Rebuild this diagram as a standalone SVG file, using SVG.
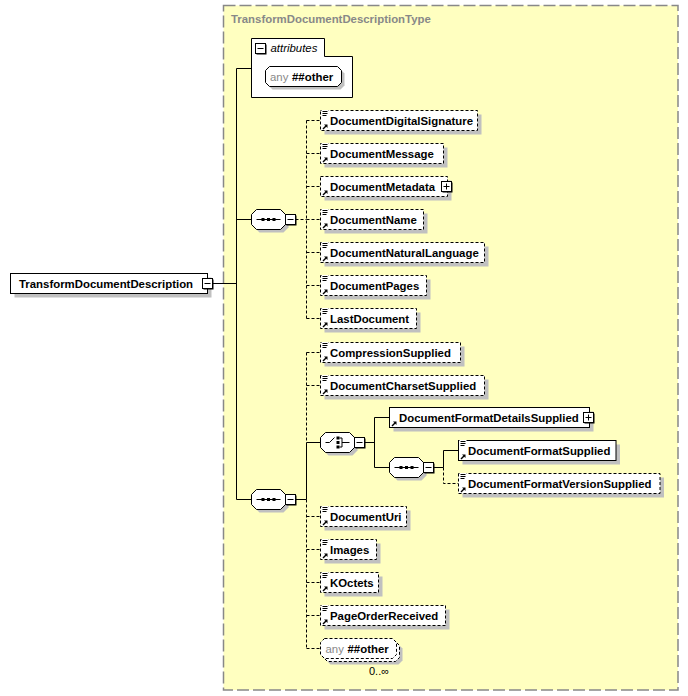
<svg xmlns="http://www.w3.org/2000/svg" xmlns:xlink="http://www.w3.org/1999/xlink" width="688" height="696" viewBox="0 0 688 696">
<style>
.el{font-family:"Liberation Sans",Arial,sans-serif;font-weight:bold;font-size:11.4px;fill:#000}
.gr{font-family:"Liberation Sans",Arial,sans-serif;font-size:11.4px;fill:#888}
.it{font-family:"Liberation Sans",Arial,sans-serif;font-style:italic;font-size:11.4px;fill:#000}
.oc{font-family:"Liberation Sans",Arial,sans-serif;font-size:11px;fill:#000}
.sh{fill:#c0c0c0;stroke:none}
.box{fill:#fff;stroke:#000;stroke-width:1}
.opt{fill:#fff;stroke:#000;stroke-width:1;stroke-dasharray:3,2}
.ln{fill:none;stroke:#000;stroke-width:1}
.dl{fill:none;stroke:#000;stroke-width:1;stroke-dasharray:3,2}
</style>
<defs>
<g id="ico-list">
<rect x="1" y="-0.5" width="7" height="7" fill="#fff"/>
<rect x="2" y="0.5" width="5" height="1" fill="#000"/>
<rect x="2" y="2.5" width="5" height="1" fill="#000"/>
<rect x="2" y="4.5" width="4" height="1" fill="#000"/>
</g>
<g id="ico-ref">
<path d="M2.5,18.5 L5.5,15.5" stroke="#000" stroke-width="1.5" fill="none"/>
<polygon points="3.5,14 7,14 7,17.5" fill="#000"/>
</g>
<g id="minus">
<rect x="1" y="1" width="10" height="10" fill="#000"/>
<rect x="0" y="0" width="10" height="10" fill="#fff" stroke="#000"/>
<path d="M2,5 H8" stroke="#000"/>
</g>
<g id="plus">
<rect x="1" y="1" width="10" height="10" fill="#000"/>
<rect x="0" y="0" width="10" height="10" fill="#fff" stroke="#000"/>
<path d="M2,5 H8 M5,2 V8" stroke="#000"/>
</g>
<path id="oct" d="M5,0 H29 L34,5 V15 L29,20 H5 L0,15 V5 Z"/>
<g id="seq">
<use href="#oct" x="3" y="3" class="sh"/>
<use href="#oct" class="box"/>
<path d="M5,10 H29" stroke="#000"/>
<rect x="10" y="8.5" width="3" height="3" fill="#000"/>
<rect x="15.5" y="8.5" width="3" height="3" fill="#000"/>
<rect x="21" y="8.5" width="3" height="3" fill="#000"/>
</g>
<g id="choice">
<use href="#oct" x="3" y="3" class="sh"/>
<use href="#oct" class="box"/>
<path d="M5,10 H9 L14,5" stroke="#000" fill="none"/>
<rect x="16" y="4" width="3" height="3" fill="#000"/>
<rect x="16" y="8.5" width="3" height="3" fill="#000"/>
<rect x="16" y="13" width="3" height="3" fill="#000"/>
<path d="M19,5.5 H21.5 V14.5 H19 M21.5,10 H29" stroke="#000" fill="none"/>
</g>
</defs>

<rect x="223.5" y="5.5" width="454.5" height="684.5" fill="#ffffc0" stroke="#888" stroke-width="1.5" stroke-dasharray="12,4"/>
<text x="231" y="23" class="el" style="fill:#888">TransformDocumentDescriptionType</text>

<g id="connectors">
<path class="ln" d="M212.5,283.5 H236.5 M236.5,68.5 V499.5 M236.5,68.5 H251.5 M236.5,219.5 H251.5 M236.5,499.5 H251.5"/>
<path class="dl" d="M295.5,219.5 H306.5 M306.5,120.5 V318.5 M306.5,120.5 H320.5 M306.5,153.5 H320.5 M306.5,186.5 H320.5 M306.5,219.5 H320.5 M306.5,252.5 H320.5 M306.5,285.5 H320.5 M306.5,318.5 H320.5"/>
<path class="ln" d="M295.5,499.5 H306.5 V442.5 H320.5"/>
<path class="dl" d="M306.5,352.5 V442.5 M306.5,499.5 V648.5 M306.5,352.5 H320.5 M306.5,385.5 H320.5 M306.5,516.5 H320.5 M306.5,549.5 H320.5 M306.5,582.5 H320.5 M306.5,615.5 H320.5 M306.5,648.5 H320.5"/>
<path class="ln" d="M364.5,442.5 H374.5 M374.5,417.5 V467.5 M374.5,417.5 H389.5 M374.5,467.5 H389.5 M433.5,467.5 H443.5 V450.5 H458.5"/>
<path class="dl" d="M443.5,467.5 V483.5 H458.5"/>
</g>

<g id="n-main">
<rect class="sh" x="14.5" y="277.5" width="197" height="20"/>
<rect class="box" x="10.5" y="273.5" width="197" height="20"/>
<text class="el" x="19" y="287.5">TransformDocumentDescription</text>
<use href="#minus" x="202.5" y="278.5"/>
</g>

<g id="n-attributes">
<path class="box" d="M251.5,38.5 H324.5 V56.5 H352.5 V97.5 H251.5 Z"/>
<use href="#minus" x="255.5" y="43.5"/>
<text class="it" x="270.5" y="52">attributes</text>
<path class="sh" d="M272.5,69.5 H340.5 L344.5,73.5 V85.5 L340.5,89.5 H272.5 L268.5,85.5 V73.5 Z"/>
<path class="box" d="M269.5,66.5 H337.5 L341.5,70.5 V82.5 L337.5,86.5 H269.5 L265.5,82.5 V70.5 Z"/>
<text class="gr" x="270" y="80.5">any</text>
<text class="el" x="292" y="80.5">##other</text>
</g>

<g id="n-seq1"><use href="#seq" x="251.5" y="209.5"/><use href="#minus" x="285.5" y="214.5"/></g>
<g id="n-seq2"><use href="#seq" x="251.5" y="489.5"/><use href="#minus" x="285.5" y="494.5"/></g>
<g id="n-choice"><use href="#choice" x="320.5" y="432.5"/><use href="#minus" x="354.5" y="437.5"/></g>
<g id="n-seq3"><use href="#seq" x="389.5" y="457.5"/><use href="#minus" x="423.5" y="462.5"/></g>

<g id="n-DocumentDigitalSignature">
<rect class="sh" x="324.5" y="114.5" width="157" height="20"/>
<rect class="opt" x="320.5" y="110.5" width="157" height="20"/>
<use href="#ico-list" x="320.5" y="110.5"/><use href="#ico-ref" x="320.5" y="110.5"/>
<text class="el" x="330" y="124.5">DocumentDigitalSignature</text>
</g>
<g id="n-DocumentMessage">
<rect class="sh" x="324.5" y="147.5" width="123" height="20"/>
<rect class="opt" x="320.5" y="143.5" width="123" height="20"/>
<use href="#ico-list" x="320.5" y="143.5"/><use href="#ico-ref" x="320.5" y="143.5"/>
<text class="el" x="330" y="157.5">DocumentMessage</text>
</g>
<g id="n-DocumentMetadata">
<rect class="sh" x="324.5" y="180.5" width="127" height="20"/>
<rect class="opt" x="320.5" y="176.5" width="127" height="20"/>
<use href="#ico-ref" x="320.5" y="176.5"/>
<text class="el" x="330" y="190.5">DocumentMetadata</text>
<use href="#plus" x="441.5" y="181.5"/>
</g>
<g id="n-DocumentName">
<rect class="sh" x="324.5" y="213.5" width="103" height="20"/>
<rect class="opt" x="320.5" y="209.5" width="103" height="20"/>
<use href="#ico-list" x="320.5" y="209.5"/><use href="#ico-ref" x="320.5" y="209.5"/>
<text class="el" x="330" y="223.5">DocumentName</text>
</g>
<g id="n-DocumentNaturalLanguage">
<rect class="sh" x="324.5" y="246.5" width="164" height="20"/>
<rect class="opt" x="320.5" y="242.5" width="164" height="20"/>
<use href="#ico-list" x="320.5" y="242.5"/><use href="#ico-ref" x="320.5" y="242.5"/>
<text class="el" x="330" y="256.5">DocumentNaturalLanguage</text>
</g>
<g id="n-DocumentPages">
<rect class="sh" x="324.5" y="279.5" width="106" height="20"/>
<rect class="opt" x="320.5" y="275.5" width="106" height="20"/>
<use href="#ico-list" x="320.5" y="275.5"/><use href="#ico-ref" x="320.5" y="275.5"/>
<text class="el" x="330" y="289.5">DocumentPages</text>
</g>
<g id="n-LastDocument">
<rect class="sh" x="324.5" y="312.5" width="96" height="20"/>
<rect class="opt" x="320.5" y="308.5" width="96" height="20"/>
<use href="#ico-list" x="320.5" y="308.5"/><use href="#ico-ref" x="320.5" y="308.5"/>
<text class="el" x="330" y="322.5">LastDocument</text>
</g>

<g id="n-CompressionSupplied">
<rect class="sh" x="324.5" y="346.5" width="140" height="20"/>
<rect class="opt" x="320.5" y="342.5" width="140" height="20"/>
<use href="#ico-list" x="320.5" y="342.5"/><use href="#ico-ref" x="320.5" y="342.5"/>
<text class="el" x="330" y="356.5">CompressionSupplied</text>
</g>
<g id="n-DocumentCharsetSupplied">
<rect class="sh" x="324.5" y="379.5" width="164" height="20"/>
<rect class="opt" x="320.5" y="375.5" width="164" height="20"/>
<use href="#ico-list" x="320.5" y="375.5"/><use href="#ico-ref" x="320.5" y="375.5"/>
<text class="el" x="330" y="389.5">DocumentCharsetSupplied</text>
</g>
<g id="n-DocumentFormatDetailsSupplied">
<rect class="sh" x="393.5" y="411.5" width="200" height="20"/>
<rect class="box" x="389.5" y="407.5" width="200" height="20"/>
<use href="#ico-ref" x="389.5" y="407.5"/>
<text class="el" x="399" y="421.5">DocumentFormatDetailsSupplied</text>
<use href="#plus" x="583.5" y="412.5"/>
</g>
<g id="n-DocumentFormatSupplied">
<rect class="sh" x="462.5" y="444.5" width="157.5" height="20"/>
<rect class="box" x="458.5" y="440.5" width="157.5" height="20"/>
<use href="#ico-list" x="458.5" y="440.5"/><use href="#ico-ref" x="458.5" y="440.5"/>
<text class="el" x="468" y="454.5">DocumentFormatSupplied</text>
</g>
<g id="n-DocumentFormatVersionSupplied">
<rect class="sh" x="462.5" y="477.5" width="201.5" height="20"/>
<rect class="opt" x="458.5" y="473.5" width="201.5" height="20"/>
<use href="#ico-list" x="458.5" y="473.5"/><use href="#ico-ref" x="458.5" y="473.5"/>
<text class="el" x="468" y="487.5">DocumentFormatVersionSupplied</text>
</g>
<g id="n-DocumentUri">
<rect class="sh" x="324.5" y="510.5" width="86" height="20"/>
<rect class="opt" x="320.5" y="506.5" width="86" height="20"/>
<use href="#ico-list" x="320.5" y="506.5"/><use href="#ico-ref" x="320.5" y="506.5"/>
<text class="el" x="330" y="520.5">DocumentUri</text>
</g>
<g id="n-Images">
<rect class="sh" x="324.5" y="543.5" width="56" height="20"/>
<rect class="opt" x="320.5" y="539.5" width="56" height="20"/>
<use href="#ico-list" x="320.5" y="539.5"/><use href="#ico-ref" x="320.5" y="539.5"/>
<text class="el" x="330" y="553.5">Images</text>
</g>
<g id="n-KOctets">
<rect class="sh" x="324.5" y="576.5" width="58" height="20"/>
<rect class="opt" x="320.5" y="572.5" width="58" height="20"/>
<use href="#ico-list" x="320.5" y="572.5"/><use href="#ico-ref" x="320.5" y="572.5"/>
<text class="el" x="330" y="586.5">KOctets</text>
</g>
<g id="n-PageOrderReceived">
<rect class="sh" x="324.5" y="609.5" width="125" height="20"/>
<rect class="opt" x="320.5" y="605.5" width="125" height="20"/>
<use href="#ico-list" x="320.5" y="605.5"/><use href="#ico-ref" x="320.5" y="605.5"/>
<text class="el" x="330" y="619.5">PageOrderReceived</text>
</g>
<g id="n-any">
<path class="sh" d="M330.5,644.5 H398.5 L402.5,648.5 V660.5 L398.5,664.5 H330.5 L326.5,660.5 V648.5 Z"/>
<path class="opt" d="M327.5,641.5 H395.5 L399.5,645.5 V657.5 L395.5,661.5 H327.5 L323.5,657.5 V645.5 Z"/>
<path class="opt" d="M324.5,638.5 H392.5 L396.5,642.5 V654.5 L392.5,658.5 H324.5 L320.5,654.5 V642.5 Z"/>
<text class="gr" x="325.5" y="652.5">any</text>
<text class="el" x="347.5" y="652.5">##other</text>
<text class="oc" x="369" y="675">0..∞</text>
</g>
</svg>
